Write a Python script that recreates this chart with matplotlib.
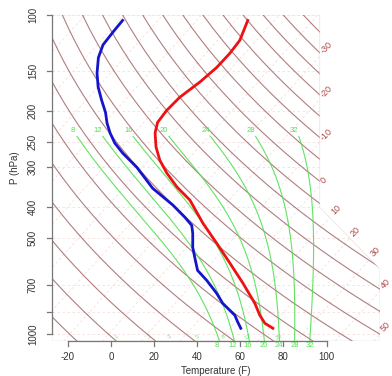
import numpy as np
import matplotlib.pyplot as plt
from matplotlib.patches import Polygon
from matplotlib.path import Path

plt.rcParams['font.family'] = ['Liberation Sans', 'DejaVu Sans']

# sounding: temperature (red) in deg F vs pressure (hPa)
temp_p = [958, 924, 872, 800, 692, 599, 519, 449, 380, 346, 313, 285, 259,
          234, 217, 199, 181, 162, 146, 132, 120, 104]
temp_f = [69.8, 64.0, 58.3, 51.0, 37.1, 22.7, 8.3, -6.5, -22.2, -33.6, -44.1,
          -52.8, -60.1, -66.4, -69.6, -70.4, -69.8, -66.8, -65.1, -64.9, -65.7, -70.3]

# dewpoint (blue) in deg F vs pressure (hPa)
dew_p = [958, 917, 872, 800, 745, 678, 631, 574, 534, 483, 456, 430, 394, 349,
         300, 271, 252, 234, 218, 202, 185, 168, 152, 136, 124, 113, 104]
dew_f = [54.9, 51.0, 46.7, 36.1, 29.2, 19.1, 10.7, 3.9, -1.2, -7.0, -10.8, -17.4,
         -28.0, -44.4, -60.5, -72.9, -80.8, -87.3, -92.8, -97.9, -104.8, -112.0,
         -118.3, -124.1, -127.3, -128.0, -128.4]

temp_ticks_f = [-20, 0, 20, 40, 60, 80, 100]
pres_ticks = [100, 150, 200, 250, 300, 400, 500, 700, 850, 1000]
pres_labels = ['100', '150', '200', '250', '300', '400', '500', '700', '', '1000']
pres_lines = [1050, 1000, 850, 700, 500, 400, 300, 250, 200, 150, 100]
isotherms_c = list(range(-100, 60, 10))
isotherm_labels_c = [-30, -20, -10, 0, 10, 20, 30, 40, 50]
dry_theta_c = list(range(-30, 180, 10))
moist_thetaw_c = [8, 12, 16, 20, 24, 28, 32]
mixrat_gkg = [1, 2, 3, 5, 8, 12, 20]

BROWN = '#8f4848'
GREEN = '#52e052'


def skewty(p):
    return 132.182 - 44.061 * np.log10(p)


def skewtx(t, y):
    return 0.54 * np.asarray(t) + 0.90692 * y


def f2c(f):
    return (np.asarray(f, dtype=float) - 32.0) / 1.8


def moist_adiabat(tw, pres):
    Rd, cp, L, eps = 287.04, 1005.7, 2.501e6, 0.622

    def dtdp(T, p):
        es = 6.112 * np.exp(17.67 * (T - 273.15) / (T - 29.65))
        r = eps * es / (p - es)
        return (Rd * T + L * r) / p / (cp + L * L * r * eps / (Rd * T * T))

    out = []
    T, p = tw + 273.15, 1000.0
    for target in pres:
        n = max(1, int(abs(target - p) / 2.0))
        h = (target - p) / n
        for _ in range(n):
            k1 = dtdp(T, p)
            k2 = dtdp(T + h * k1 / 2, p + h / 2)
            k3 = dtdp(T + h * k2 / 2, p + h / 2)
            k4 = dtdp(T + h * k3, p + h)
            T += h * (k1 + 2 * k2 + 2 * k3 + k4) / 6
            p += h
        out.append(T - 273.15)
    return np.array(out)


ytop = skewty(100)
ybot = skewty(1050)
xmin = skewtx(-33, ybot)
xmax = skewtx(50, skewty(1000))
kinkx = skewtx(5, skewty(400))

fig = plt.figure(figsize=(3.92, 3.76), dpi=100)
ax = fig.add_axes([52 / 392, 35 / 376, 328 / 392, 326 / 376])
ax.set_xlim(xmin, xmax)
ax.set_ylim(ybot, ytop)
ax.axis('off')

border = Polygon([[xmin, ybot], [xmax, ybot], [xmax, skewty(625)],
                  [kinkx, skewty(400)], [kinkx, ytop], [xmin, ytop]],
                 closed=True, facecolor='none', edgecolor='#e8e8e8', lw=0.6)
ax.add_patch(border)
region = Path(border.get_xy())

# pressure lines
for p in pres_lines:
    y = skewty(p)
    ln, = ax.plot([xmin, xmax], [y, y], color='#f6dede', lw=0.6, ls=(0, (3, 3)))
    ln.set_clip_path(border)

# isotherms
ys = np.linspace(ybot, ytop, 400)
for t in isotherms_c:
    xs = skewtx(t, ys)
    ln, = ax.plot(xs, ys, color='#f7dcdc', lw=0.6, ls=(0, (3, 3)))
    ln.set_clip_path(border)
    if t in isotherm_labels_c:
        inside = region.contains_points(np.column_stack([xs, ys]), radius=1e-6)
        idx = np.where(inside)[0][-1]
        ax.text(xs[idx] + 0.35, ys[idx] + 0.55, str(t), rotation=45,
                rotation_mode='anchor', ha='left', va='center',
                color='#b04646', fontsize=6.5, clip_on=False)

# dry adiabats
pp = np.linspace(100, 1050, 200)
for th in dry_theta_c:
    tt = (th + 273.15) * (pp * 0.001) ** 0.286 - 273.15
    ln, = ax.plot(skewtx(tt, skewty(pp)), skewty(pp), color=BROWN, alpha=0.7, lw=0.8)
    ln.set_clip_path(border)

# moist adiabats
pm = np.arange(240, 1052, 5.0)
for tw in moist_thetaw_c:
    tm = moist_adiabat(tw, pm[::-1])[::-1]
    xs = skewtx(tm, skewty(pm))
    ln, = ax.plot(xs, skewty(pm), color=GREEN, alpha=0.9, lw=0.8)
    ln.set_clip_path(border)
    ax.text(xs[0] - 0.65, skewty(240) + 0.85, str(tw), color=GREEN,
            fontsize=5.5, ha='center', va='center')
    x1000 = skewtx(moist_adiabat(tw, [1000.0])[0], skewty(1000))
    ax.text(x1000, ybot - 0.6, str(tw), color=GREEN, fontsize=5.5,
            ha='center', va='center', clip_on=False)

# mixing ratio labels at the bottom
for w in mixrat_gkg:
    e = w * 1050 / (622 + w)
    lg = np.log(e / 6.112)
    td = 243.5 * lg / (17.67 - lg)
    ax.text(skewtx(td, ybot), ybot + 0.55, str(w), color=GREEN, alpha=0.7,
            fontsize=4.5, ha='center', va='center', rotation=30)

# profiles
ax.plot(skewtx(f2c(temp_f), skewty(np.array(temp_p))), skewty(np.array(temp_p)),
        color='#ee1111', lw=2)
ax.plot(skewtx(f2c(dew_f), skewty(np.array(dew_p))), skewty(np.array(dew_p)),
        color='#1414cc', lw=2)

# left (pressure) axis
axcol = '#777777'
ax.plot([xmin, xmin], [skewty(1000), ytop], color=axcol, lw=0.9, clip_on=False)
for p, lab in zip(pres_ticks, pres_labels):
    y = skewty(p)
    ax.plot([xmin - 0.7, xmin], [y, y], color=axcol, lw=0.9, clip_on=False)
    if lab:
        ax.text(xmin - 2.65, y, lab, rotation=90, ha='center', va='center',
                fontsize=7, color='#333333')
ax.text(xmin - 5.2, skewty(300), 'P (hPa)', rotation=90, ha='center',
        va='center', fontsize=7, color='#333333')

# bottom (temperature) axis
xt = skewtx(f2c(temp_ticks_f), ybot)
ax.plot([xt[0], xt[-1]], [ybot, ybot], color=axcol, lw=0.9, clip_on=False)
for x, lab in zip(xt, temp_ticks_f):
    ax.plot([x, x], [ybot, ybot - 0.7], color=axcol, lw=0.9, clip_on=False)
    ax.text(x, ybot - 2.2, str(lab), ha='center', va='center', fontsize=7,
            color='#333333')
ax.text((xmin + xmax) / 2, ybot - 4.1, 'Temperature (F)', ha='center',
        va='center', fontsize=7, color='#333333')

fig.savefig('out.png', dpi=100)
